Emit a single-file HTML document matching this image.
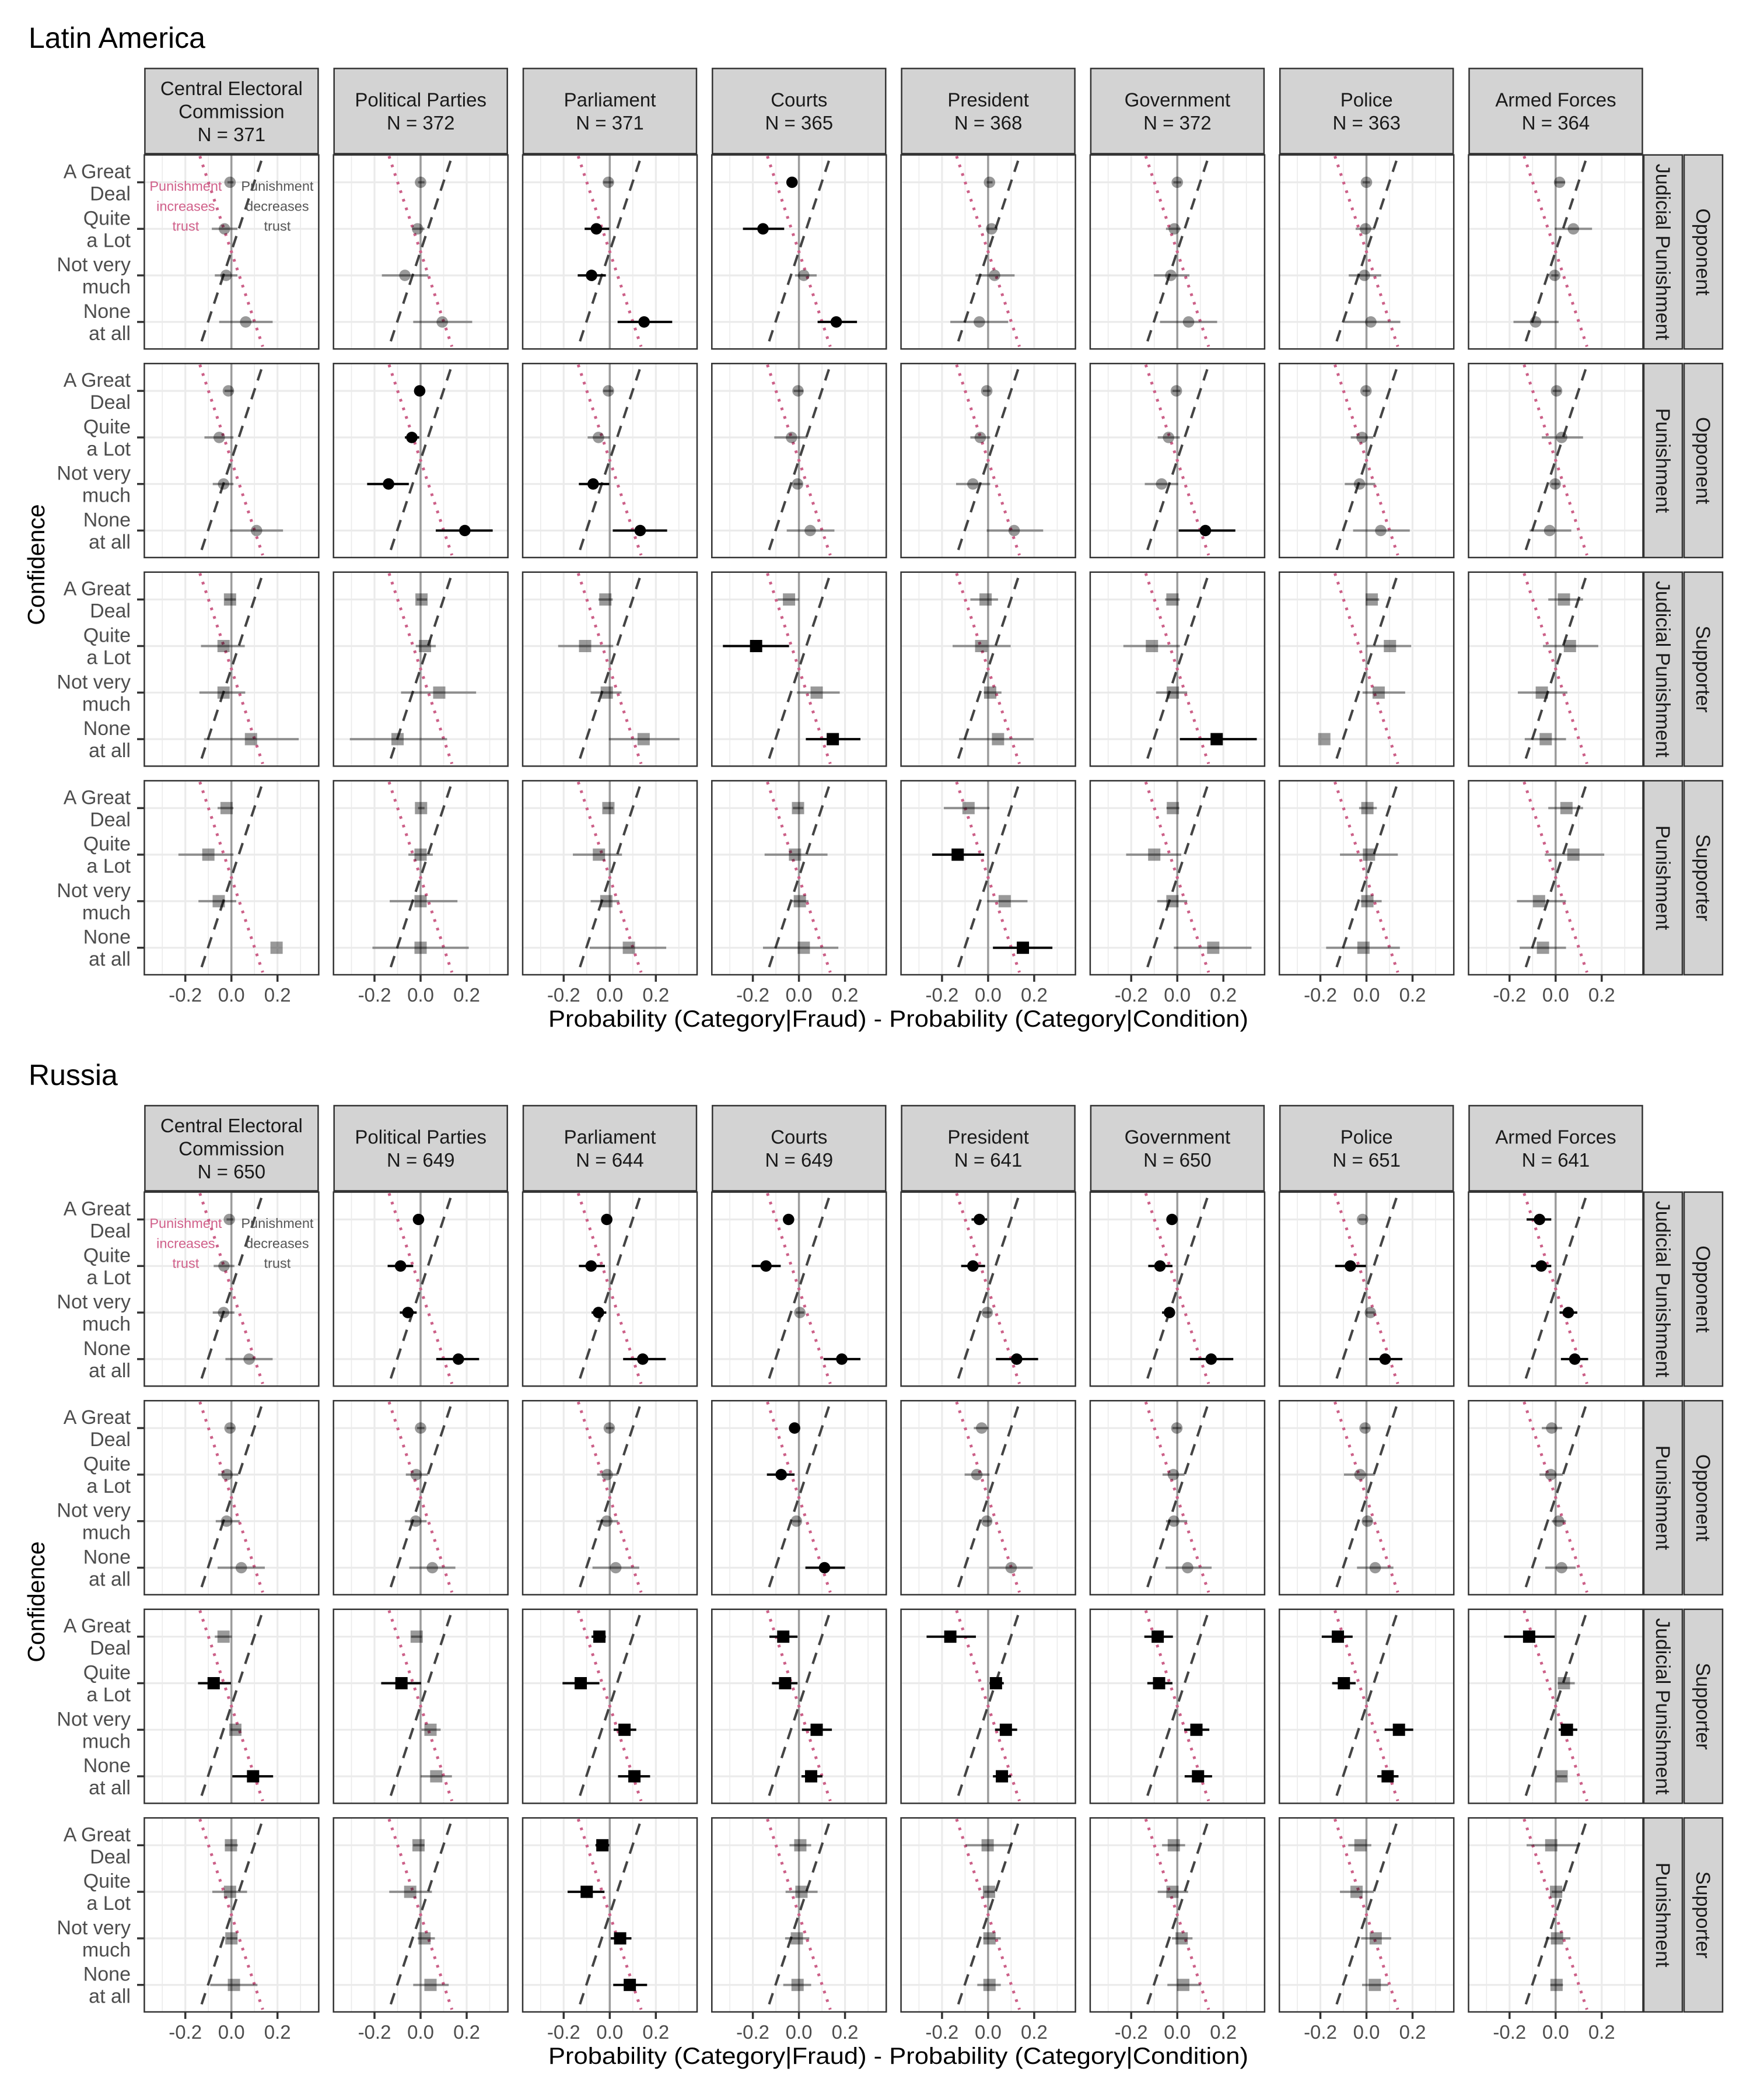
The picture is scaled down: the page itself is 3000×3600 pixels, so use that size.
<!DOCTYPE html>
<html><head><meta charset="utf-8">
<style>
html,body{margin:0;padding:0;background:#fff;}
svg{display:block;font-family:"Liberation Sans",sans-serif;}
</style></head>
<body>
<svg id="chart" width="3000" height="3600" viewBox="0 0 3000 3600" xmlns="http://www.w3.org/2000/svg">
<rect width="3000" height="3600" fill="#fff"/>
</svg>
<script>
const regions = ["Latin America", "Russia"];
const institutions = ["Central Electoral Commission","Political Parties","Parliament","Courts","President","Government","Police","Armed Forces"];
const latN = [371,372,371,365,368,372,363,364];
const rusN = [650,649,644,649,641,650,651,641];
const levels = [["A Great","Deal"],["Quite","a Lot"],["Not very","much"],["None","at all"]];
const rowTreat = ["Judicial Punishment","Punishment","Judicial Punishment","Punishment"];
const rowGroup = ["Opponent","Opponent","Supporter","Supporter"];
const xTicks = [-0.2, 0.0, 0.2];
const xTickLabels = ["-0.2","0.0","0.2"];

const latEst = [
 [[-0.006,-0.03,-0.023,0.062],[0,-0.013,-0.068,0.094],[-0.006,-0.058,-0.079,0.149],[-0.03,-0.156,0.021,0.162],[0.006,0.015,0.028,-0.038],[0,-0.013,-0.028,0.049],[0,-0.004,-0.009,0.019],[0.017,0.077,-0.004,-0.087]],
 [[-0.013,-0.053,-0.034,0.109],[-0.004,-0.038,-0.139,0.192],[-0.006,-0.049,-0.072,0.132],[-0.004,-0.032,-0.006,0.049],[-0.006,-0.034,-0.066,0.113],[-0.004,-0.038,-0.068,0.122],[-0.002,-0.019,-0.03,0.062],[0.004,0.026,-0.002,-0.026]],
 [[-0.006,-0.034,-0.034,0.085],[0.004,0.019,0.081,-0.1],[-0.019,-0.107,-0.013,0.147],[-0.043,-0.186,0.077,0.147],[-0.011,-0.03,0.009,0.043],[-0.021,-0.11,-0.019,0.171],[0.023,0.102,0.053,-0.183],[0.036,0.062,-0.06,-0.043]],
 [[-0.021,-0.1,-0.055,0.196],[0.002,0,0,0],[-0.006,-0.047,-0.015,0.083],[-0.004,-0.017,0.004,0.021],[-0.085,-0.132,0.072,0.151],[-0.019,-0.1,-0.021,0.156],[0.004,0.011,0.004,-0.013],[0.047,0.077,-0.072,-0.055]]];
const latLo = [
 [[-0.017,-0.085,-0.072,-0.053],[-0.011,-0.036,-0.168,-0.032],[-0.028,-0.109,-0.139,0.034],[-0.049,-0.243,-0.017,0.081],[-0.006,-0.006,-0.055,-0.164],[-0.017,-0.049,-0.102,-0.075],[-0.017,-0.047,-0.077,-0.096],[-0.004,-0.004,-0.019,-0.183]],
 [[-0.03,-0.117,-0.081,-0.006],[-0.021,-0.068,-0.232,0.066],[-0.028,-0.096,-0.134,0.013],[-0.023,-0.107,-0.023,-0.053],[-0.023,-0.077,-0.139,-0.006],[-0.021,-0.085,-0.141,0.006],[-0.017,-0.068,-0.094,-0.058],[-0.013,-0.06,-0.019,-0.113]],
 [[-0.03,-0.132,-0.139,-0.119],[-0.017,-0.021,-0.085,-0.307],[-0.049,-0.224,-0.083,-0.004],[-0.092,-0.33,-0.009,0.03],[-0.077,-0.154,-0.019,-0.126],[-0.053,-0.234,-0.092,0.011],[-0.002,0,-0.017,-0.183],[-0.032,-0.055,-0.164,-0.134]],
 [[-0.06,-0.23,-0.143,0.196],[-0.011,-0.053,-0.134,-0.209],[-0.028,-0.16,-0.083,-0.087],[-0.026,-0.149,-0.03,-0.156],[-0.192,-0.243,-0.004,0.021],[-0.047,-0.222,-0.087,-0.015],[-0.032,-0.115,-0.026,-0.175],[-0.032,-0.047,-0.168,-0.156]]];
const latHi = [
 [[0.009,0.026,0.026,0.179],[0.017,0.017,0.034,0.224],[0.015,-0.002,-0.017,0.271],[-0.011,-0.064,0.077,0.252],[0.019,0.041,0.115,0.087],[0.017,0.015,0.053,0.173],[0.015,0.036,0.064,0.147],[0.041,0.158,0.013,0.013]],
 [[0.009,0.009,0.009,0.224],[0.017,-0.006,-0.051,0.313],[0.015,0,-0.002,0.249],[0.019,0.036,0.015,0.154],[0.011,0.009,0.009,0.239],[0.013,0.011,0.004,0.252],[0.015,0.03,0.038,0.188],[0.023,0.119,0.017,0.068]],
 [[0.019,0.058,0.06,0.292],[0.028,0.066,0.241,0.115],[0.013,0.015,0.051,0.303],[0,-0.043,0.177,0.267],[0.043,0.098,0.058,0.198],[0.011,0.011,0.043,0.345],[0.055,0.194,0.168,-0.183],[0.119,0.185,0.051,0.045]],
 [[0.009,0.009,0.021,0.196],[0.017,0.053,0.16,0.209],[0.015,0.053,0.041,0.245],[0.019,0.124,0.041,0.171],[0.006,-0.017,0.171,0.279],[0.009,0.017,0.043,0.322],[0.045,0.136,0.066,0.145],[0.119,0.211,0.045,0.045]]];
const latSig = [
 [[0,0,0,0],[0,0,0,0],[0,1,1,1],[1,1,0,1],[0,0,0,0],[0,0,0,0],[0,0,0,0],[0,0,0,0]],
 [[0,0,0,0],[1,1,1,1],[0,0,1,1],[0,0,0,0],[0,0,0,0],[0,0,0,1],[0,0,0,0],[0,0,0,0]],
 [[0,0,0,0],[0,0,0,0],[0,0,0,0],[0,1,0,1],[0,0,0,0],[0,0,0,1],[0,0,0,0],[0,0,0,0]],
 [[0,0,0,0],[0,0,0,0],[0,0,0,0],[0,0,0,0],[0,1,0,1],[0,0,0,0],[0,0,0,0],[0,0,0,0]]];

const rusEst = [
 [[-0.009,-0.032,-0.034,0.077],[-0.009,-0.087,-0.055,0.164],[-0.013,-0.081,-0.049,0.143],[-0.045,-0.143,0.004,0.186],[-0.038,-0.066,-0.004,0.124],[-0.023,-0.075,-0.034,0.147],[-0.017,-0.07,0.017,0.081],[-0.07,-0.062,0.055,0.083]],
 [[-0.006,-0.019,-0.021,0.043],[0,-0.019,-0.021,0.051],[-0.002,-0.011,-0.013,0.026],[-0.019,-0.077,-0.011,0.111],[-0.028,-0.049,-0.006,0.1],[-0.002,-0.017,-0.015,0.045],[-0.006,-0.028,0.004,0.038],[-0.017,-0.021,0.013,0.026]],
 [[-0.034,-0.077,0.017,0.094],[-0.017,-0.083,0.043,0.068],[-0.045,-0.126,0.064,0.107],[-0.068,-0.06,0.077,0.053],[-0.164,0.034,0.077,0.06],[-0.085,-0.079,0.083,0.09],[-0.124,-0.098,0.141,0.092],[-0.115,0.036,0.049,0.026]],
 [[-0.002,-0.006,0,0.011],[-0.009,-0.045,0.017,0.043],[-0.032,-0.1,0.045,0.087],[0.006,0.011,-0.009,-0.006],[-0.002,0.004,0.006,0.006],[-0.015,-0.021,0.019,0.026],[-0.026,-0.043,0.04,0.036],[-0.019,0.002,0.006,0.004]]];
const rusLo = [
 [[-0.021,-0.077,-0.081,-0.026],[-0.026,-0.143,-0.09,0.068],[-0.03,-0.134,-0.079,0.058],[-0.064,-0.205,-0.013,0.107],[-0.072,-0.117,-0.023,0.034],[-0.043,-0.126,-0.066,0.055],[-0.034,-0.136,-0.002,0.011],[-0.126,-0.107,0.017,0.023]],
 [[-0.021,-0.058,-0.068,-0.06],[-0.015,-0.064,-0.068,-0.049],[-0.017,-0.055,-0.058,-0.075],[-0.034,-0.139,-0.028,0.028],[-0.062,-0.102,-0.023,0.004],[-0.021,-0.064,-0.049,-0.051],[-0.023,-0.098,-0.017,-0.041],[-0.06,-0.07,-0.017,-0.045]],
 [[-0.072,-0.145,-0.004,0.004],[-0.041,-0.171,0.004,0],[-0.079,-0.205,0.017,0.036],[-0.128,-0.117,0.013,0.011],[-0.267,0.006,0.03,0.021],[-0.143,-0.13,0.03,0.032],[-0.194,-0.149,0.079,0.047],[-0.224,0.009,0.013,0.006]],
 [[-0.028,-0.083,-0.021,-0.092],[-0.032,-0.136,-0.013,-0.032],[-0.062,-0.183,0.004,0.015],[-0.041,-0.058,-0.06,-0.068],[-0.098,-0.017,-0.021,-0.047],[-0.066,-0.085,-0.023,-0.043],[-0.079,-0.115,-0.023,-0.019],[-0.126,-0.017,-0.043,-0.023]]];
const rusHi = [
 [[0.009,0.013,0.013,0.179],[0.011,-0.032,-0.017,0.254],[0.004,-0.021,-0.015,0.243],[-0.023,-0.079,0.023,0.267],[-0.004,-0.013,0.015,0.217],[-0.002,-0.021,-0.011,0.243],[0,-0.002,0.036,0.156],[-0.019,-0.019,0.094,0.141]],
 [[0.013,0.03,0.036,0.145],[0.017,0.032,0.026,0.151],[0.017,0.034,0.036,0.128],[-0.002,-0.019,0.009,0.2],[0.002,0.006,0.015,0.194],[0.017,0.032,0.043,0.149],[0.015,0.036,0.026,0.117],[0.028,0.032,0.045,0.087]],
 [[0.002,-0.002,0.043,0.181],[0.006,0.002,0.087,0.136],[-0.017,-0.045,0.115,0.175],[-0.006,-0.006,0.143,0.102],[-0.053,0.068,0.126,0.1],[-0.019,-0.021,0.139,0.151],[-0.06,-0.047,0.203,0.139],[-0.004,0.083,0.094,0.049]],
 [[0.028,0.068,0.026,0.113],[0.017,0.049,0.062,0.122],[-0.002,-0.023,0.094,0.162],[0.053,0.081,0.045,0.053],[0.102,0.028,0.055,0.055],[0.034,0.047,0.066,0.102],[0.021,0.032,0.107,0.094],[0.104,0.03,0.064,0.032]]];
const rusSig = [
 [[0,0,0,0],[1,1,1,1],[1,1,1,1],[1,1,0,1],[1,1,0,1],[1,1,1,1],[0,1,0,1],[1,1,1,1]],
 [[0,0,0,0],[0,0,0,0],[0,0,0,0],[1,1,0,1],[0,0,0,0],[0,0,0,0],[0,0,0,0],[0,0,0,0]],
 [[0,1,0,1],[0,1,0,0],[1,1,1,1],[1,1,1,1],[1,1,1,1],[1,1,1,1],[1,1,1,1],[1,0,1,0]],
 [[0,0,0,0],[0,0,0,0],[1,1,1,1],[0,0,0,0],[0,0,0,0],[0,0,0,0],[0,0,0,0],[0,0,0,0]]];

const sectionData = [
  {est: latEst, lo: latLo, hi: latHi, sig: latSig, n: latN},
  {est: rusEst, lo: rusLo, hi: rusHi, sig: rusSig, n: rusN}
];

const NS = "http://www.w3.org/2000/svg";
const svg = document.getElementById("chart");
const LEFT0 = 247.4, PITCH = 324.3, PW = 299, PH = 332.6, ZERO_OFF = 149.3, PXU = 395;
const TOP0 = 265.6, ROWP = 357.6, SECOFF = 1778, LVL0 = 46.9, LVLP = 79.8;
function panelLeft(c){ return LEFT0 + c*PITCH; }
function panelTop(s,r){ return TOP0 + s*SECOFF + r*ROWP; }
function xScale(c,v){ return panelLeft(c) + ZERO_OFF + v*PXU; }
function yScale(s,r,k){ return panelTop(s,r) + LVL0 + k*LVLP; }
function yLevel(s,r,L){ return panelTop(s,r) + LVL0 + (L-1)*LVLP; }
function mk(tag, attrs, parent){
  const e = document.createElementNS(NS, tag);
  for (const k in attrs) e.setAttribute(k, attrs[k]);
  (parent||svg).appendChild(e);
  return e;
}
function txt(str, attrs, parent){ const t = mk("text", attrs, parent); t.textContent = str; return t; }

for (let s=0; s<2; s++){
  const D = sectionData[s];
  const g = mk("g", {});
  
  
  const title = txt(regions[s], {x:49, y:82 + s*SECOFF, "font-size":50, fill:"#000"}, g);
  
  

  // column strips
  for (let c=0; c<8; c++){
    const sg = mk("g", {}, g);
    
    
    const st = 117.4 + s*SECOFF;
    mk("rect", {x:panelLeft(c)+1, y:st, width:PW-2, height:146, fill:"#d3d3d3", stroke:"#333", "stroke-width":2.5}, sg);
    const lines = (c===0) ? ["Central Electoral","Commission","N = "+D.n[c]] : [institutions[c], "N = "+D.n[c]];
    const cy = st + 73;
    lines.forEach((ln,i)=>{
      const yy = cy + (i - (lines.length-1)/2)*39.5 + 12;
      txt(ln, {x:panelLeft(c)+PW/2, y:yy, "font-size":33, "text-anchor":"middle", fill:"#1a1a1a"}, sg);
    });
  }

  for (let r=0; r<4; r++){
    const top = panelTop(s,r);
    // right strips
    const rs1 = mk("g", {}, g);
    
    
    mk("rect", {x:2818, y:top, width:66, height:PH, fill:"#d3d3d3", stroke:"#333", "stroke-width":2.5}, rs1);
    const cyy = top + PH/2;
    txt(rowTreat[r], {x:0, y:0, "font-size":34, "text-anchor":"middle", fill:"#1a1a1a", transform:`translate(2839,${cyy}) rotate(90)`}, rs1);
    const rs2 = mk("g", {}, g);
    
    
    mk("rect", {x:2887, y:top, width:66, height:PH, fill:"#d3d3d3", stroke:"#333", "stroke-width":2.5}, rs2);
    txt(rowGroup[r], {x:0, y:0, "font-size":34, "text-anchor":"middle", fill:"#1a1a1a", transform:`translate(2908,${cyy}) rotate(90)`}, rs2);

    // y labels + ticks
    for (let k=0; k<4; k++){
      const yy = yScale(s,r,k);
      const lg = mk("g", {}, g);
      
      
      txt(levels[k][0], {x:224, y:yy-19+12, "font-size":34, "text-anchor":"end", fill:"#4d4d4d"}, lg);
      txt(levels[k][1], {x:224, y:yy+19+12, "font-size":34, "text-anchor":"end", fill:"#4d4d4d"}, lg);
      mk("line", {x1:235, x2:247.4, y1:yy, y2:yy, stroke:"#333", "stroke-width":3.5}, lg);
    }

    for (let c=0; c<8; c++){
      const left = panelLeft(c);
      const pg = mk("g", {}, g);
      
      
      mk("rect", {x:left, y:top, width:PW, height:PH, fill:"#fff"}, pg);
      [-0.3,-0.1,0.1,0.3].forEach(v=>{
        mk("line", {x1:xScale(c,v), x2:xScale(c,v), y1:top, y2:top+PH, stroke:"#ebebeb", "stroke-width":1.6}, pg);
      });
      [-0.2,0,0.2].forEach(v=>{
        mk("line", {x1:xScale(c,v), x2:xScale(c,v), y1:top, y2:top+PH, stroke:"#ebebeb", "stroke-width":3.2}, pg);
      });
      for (let k=0;k<4;k++){
        const yy = yScale(s,r,k);
        mk("line", {x1:left, x2:left+PW, y1:yy, y2:yy, stroke:"#ebebeb", "stroke-width":3.2}, pg);
      }
      const zl = mk("line", {x1:xScale(c,0), x2:xScale(c,0), y1:top, y2:top+PH, stroke:"#9c9c9c", "stroke-width":3.5}, pg);
      
      
      const pk = mk("line", {x1:xScale(c,-0.137), y1:top+2, x2:xScale(c,0.136), y2:top+PH-4, stroke:"#cc6088", "stroke-width":5, "stroke-dasharray":"4.5 11"}, pg);
      
      
      const dl = mk("line", {x1:xScale(c,0.13), y1:top+10, x2:xScale(c,-0.137), y2:top+PH-4, stroke:"#444", "stroke-width":4.2, "stroke-dasharray":"20 14"}, pg);
      
      

      if (c===0 && r===0){
        const a1 = mk("g", {}, pg);
        
        
        ["Punishment","increases","trust"].forEach((t,i)=>txt(t,{x:left+71, y:top+53.4+i*34.3+8, "font-size":23.5, "text-anchor":"middle", fill:"#d0608a"}, a1));
        const a2 = mk("g", {}, pg);
        
        
        ["Punishment","decreases","trust"].forEach((t,i)=>txt(t,{x:left+228, y:top+53.4+i*34.3+8, "font-size":23.5, "text-anchor":"middle", fill:"#555"}, a2));
      }

      for (let k=0;k<4;k++){
        const est = D.est[r][c][k], lo = D.lo[r][c][k], hi = D.hi[r][c][k], sig = D.sig[r][c][k];
        const yy = yScale(s,r,k);
        const col = sig ? "#000" : "#000";
        const op = sig ? 1 : 0.4;
        const eb = mk("line", {x1:xScale(c,lo), x2:xScale(c,hi), y1:yy, y2:yy, stroke:col, "stroke-width":4, "stroke-opacity":op}, pg);
        
        
        let pt;
        if (r < 2){
          pt = mk("circle", {cx:xScale(c,est), cy:yy, r:9.8, fill:col, "fill-opacity":op}, pg);
        } else {
          pt = mk("rect", {x:xScale(c,est)-10.5, y:yy-10.5, width:21, height:21, fill:col, "fill-opacity":op}, pg);
        }
        
        
      }
      mk("rect", {x:left, y:top, width:PW, height:PH, fill:"none", stroke:"#333", "stroke-width":2.5}, pg);
    }
  }

  // x ticks under last row
  const bottom = panelTop(s,3) + PH;
  for (let c=0;c<8;c++){
    xTicks.forEach((v,i)=>{
      const tg = mk("g", {}, g);
      
      
      mk("line", {x1:xScale(c,v), x2:xScale(c,v), y1:bottom, y2:bottom+12, stroke:"#333", "stroke-width":3.5}, tg);
      txt(xTickLabels[i], {x:xScale(c,v), y:1717 + s*SECOFF, "font-size":33, "text-anchor":"middle", fill:"#4d4d4d"}, tg);
    });
  }
  const xt = txt("Probability (Category|Fraud) - Probability (Category|Condition)", {x:1540, y:1760 + s*SECOFF, "font-size":40, "text-anchor":"middle", fill:"#000", textLength:1200, lengthAdjust:"spacingAndGlyphs"}, g);
  
  
  const yt = txt("Confidence", {x:0, y:0, "font-size":41, "text-anchor":"middle", fill:"#000", transform:`translate(76,${968 + s*SECOFF}) rotate(-90)`}, g);
  
  
}
</script>
</body></html>
